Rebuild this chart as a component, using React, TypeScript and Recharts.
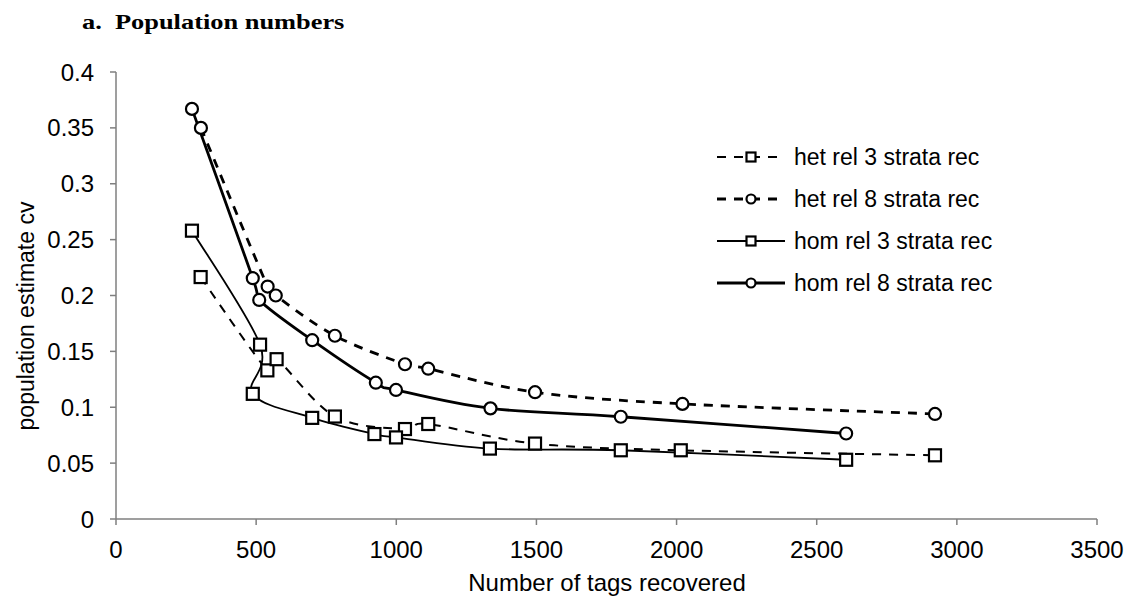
import React from "react";
import { LineChart, Line, XAxis, YAxis, Label } from "recharts";

// x = number of tags recovered, y = population estimate cv
const het3X = [302, 540, 573, 781, 1031, 1114, 1495, 2015, 2922];
const het3Y = [0.2165, 0.133, 0.143, 0.0917, 0.0805, 0.085, 0.0675, 0.0615, 0.057];

const het8X = [303, 541, 570, 781, 1031, 1114, 1495, 2021, 2922];
const het8Y = [0.35, 0.208, 0.2, 0.164, 0.1385, 0.1345, 0.1135, 0.103, 0.094];

const hom3X = [271, 514, 488, 700, 922, 999, 1334, 1801, 2605];
const hom3Y = [0.258, 0.156, 0.112, 0.0905, 0.076, 0.073, 0.063, 0.0615, 0.053];

const hom8X = [271, 488, 511, 700, 927, 999, 1336, 1801, 2605];
const hom8Y = [0.367, 0.2155, 0.196, 0.16, 0.122, 0.1155, 0.099, 0.0915, 0.0765];

const xTicks = [0, 500, 1000, 1500, 2000, 2500, 3000, 3500];
const yTicks = [0, 0.05, 0.1, 0.15, 0.2, 0.25, 0.3, 0.35, 0.4];

const toPoints = (xs: number[], ys: number[]) => xs.map((x, i) => ({ x, y: ys[i] }));

const FONT = "'Liberation Sans', Arial, sans-serif";
const DASH = "9 8";

// smoothed line a la Excel (catmull-rom style bezier through every point, in data order)
const smooth = (context: any) => {
  let pts: number[][] = [];
  return {
    areaStart() {},
    areaEnd() {},
    lineStart() {
      pts = [];
    },
    point(x: number, y: number) {
      pts.push([+x, +y]);
    },
    lineEnd() {
      const n = pts.length;
      if (!n) return;
      context.moveTo(pts[0][0], pts[0][1]);
      for (let i = 0; i < n - 1; i++) {
        const p0 = pts[Math.max(i - 1, 0)];
        const p1 = pts[i];
        const p2 = pts[i + 1];
        const p3 = pts[Math.min(i + 2, n - 1)];
        context.bezierCurveTo(
          p1[0] + (p2[0] - p0[0]) / 6,
          p1[1] + (p2[1] - p0[1]) / 6,
          p2[0] - (p3[0] - p1[0]) / 6,
          p2[1] - (p3[1] - p1[1]) / 6,
          p2[0],
          p2[1]
        );
      }
    },
  };
};

function Marker({ shape, cx, cy, size }: { shape: string; cx: number; cy: number; size: number }) {
  if (shape === "square") {
    return (
      <rect
        x={cx - size}
        y={cy - size}
        width={size * 2}
        height={size * 2}
        fill="#fff"
        stroke="#000"
        strokeWidth={2.2}
        strokeDasharray="none"
      />
    );
  }
  return <circle cx={cx} cy={cy} r={size} fill="#fff" stroke="#000" strokeWidth={2.2} strokeDasharray="none" />;
}

const makeDot = (shape: string) => (props: any) => {
  const { cx, cy, index } = props;
  if (cx == null || cy == null) return <g key={`d${index}`} />;
  return (
    <g key={`d${index}`}>
      <Marker shape={shape} cx={cx} cy={cy} size={6} />
    </g>
  );
};

const series = [
  { name: "het rel 3 strata rec", data: toPoints(het3X, het3Y), shape: "square", dash: DASH, width: 2 },
  { name: "het rel 8 strata rec", data: toPoints(het8X, het8Y), shape: "circle", dash: DASH, width: 2.8 },
  { name: "hom rel 3 strata rec", data: toPoints(hom3X, hom3Y), shape: "square", dash: undefined, width: 1.8 },
  { name: "hom rel 8 strata rec", data: toPoints(hom8X, hom8Y), shape: "circle", dash: undefined, width: 2.8 },
];

const fmtY = (v: number) => String(v);

export default function App() {
  return (
    <div style={{ position: "absolute", left: 0, top: 0, width: 1126, height: 599, background: "#fff" }}>
      <LineChart width={1126} height={599} margin={{ top: 72, right: 29, bottom: 0, left: 0 }}>
        <XAxis
          type="number"
          dataKey="x"
          domain={[0, 3500]}
          ticks={xTicks}
          height={80}
          tickSize={6}
          tickMargin={16}
          stroke="#7f7f7f"
          strokeWidth={1.5}
          tick={{ fontSize: 24, fill: "#000", fontFamily: FONT }}
          allowDataOverflow
        >
          <Label
            content={() => (
              <text x={607} y={591} textAnchor="middle" fontSize={24} fontFamily={FONT} fill="#000">
                Number of tags recovered
              </text>
            )}
          />
        </XAxis>
        <YAxis
          type="number"
          dataKey="y"
          domain={[0, 0.4]}
          ticks={yTicks}
          width={116}
          tickSize={6}
          tickMargin={16}
          stroke="#7f7f7f"
          strokeWidth={1.5}
          tickFormatter={fmtY}
          tick={{ fontSize: 24, fill: "#000", fontFamily: FONT }}
          allowDataOverflow
        >
          <Label
            content={() => (
              <text
                x={0}
                y={0}
                transform="translate(26 316) rotate(-90)"
                textAnchor="middle"
                dominantBaseline="central"
                fontSize={23}
                fontFamily={FONT}
                fill="#000"
              >
                population estimate cv
              </text>
            )}
          />
        </YAxis>
        {series.map((s) => (
          <Line
            key={s.name}
            data={s.data}
            dataKey="y"
            name={s.name}
            type={smooth as any}
            stroke="#000"
            strokeWidth={s.width}
            strokeDasharray={s.dash}
            dot={makeDot(s.shape)}
            activeDot={false}
            isAnimationActive={false}
          />
        ))}
      </LineChart>
      <svg width={1126} height={599} style={{ position: "absolute", left: 0, top: 0, pointerEvents: "none" }}>
        <text
          x={82}
          y={29}
          fontFamily="'Liberation Serif', 'Times New Roman', serif"
          fontWeight="bold"
          fontSize={22}
          transform="translate(82 0) scale(1.2 1) translate(-82 0)"
          fill="#000"
        >
          a.{"\u00a0\u00a0"}Population numbers
        </text>
        {series.map((s, i) => {
          const cy = 157 + i * 42;
          return (
            <g key={s.name}>
              <line x1={717} x2={785} y1={cy} y2={cy} stroke="#000" strokeWidth={s.width} strokeDasharray={s.dash} />
              <Marker shape={s.shape} cx={751} cy={cy} size={4.5} />
              <text x={794} y={cy + 8} fontSize={23} fontFamily={FONT} fill="#000">
                {s.name}
              </text>
            </g>
          );
        })}
      </svg>
    </div>
  );
}
